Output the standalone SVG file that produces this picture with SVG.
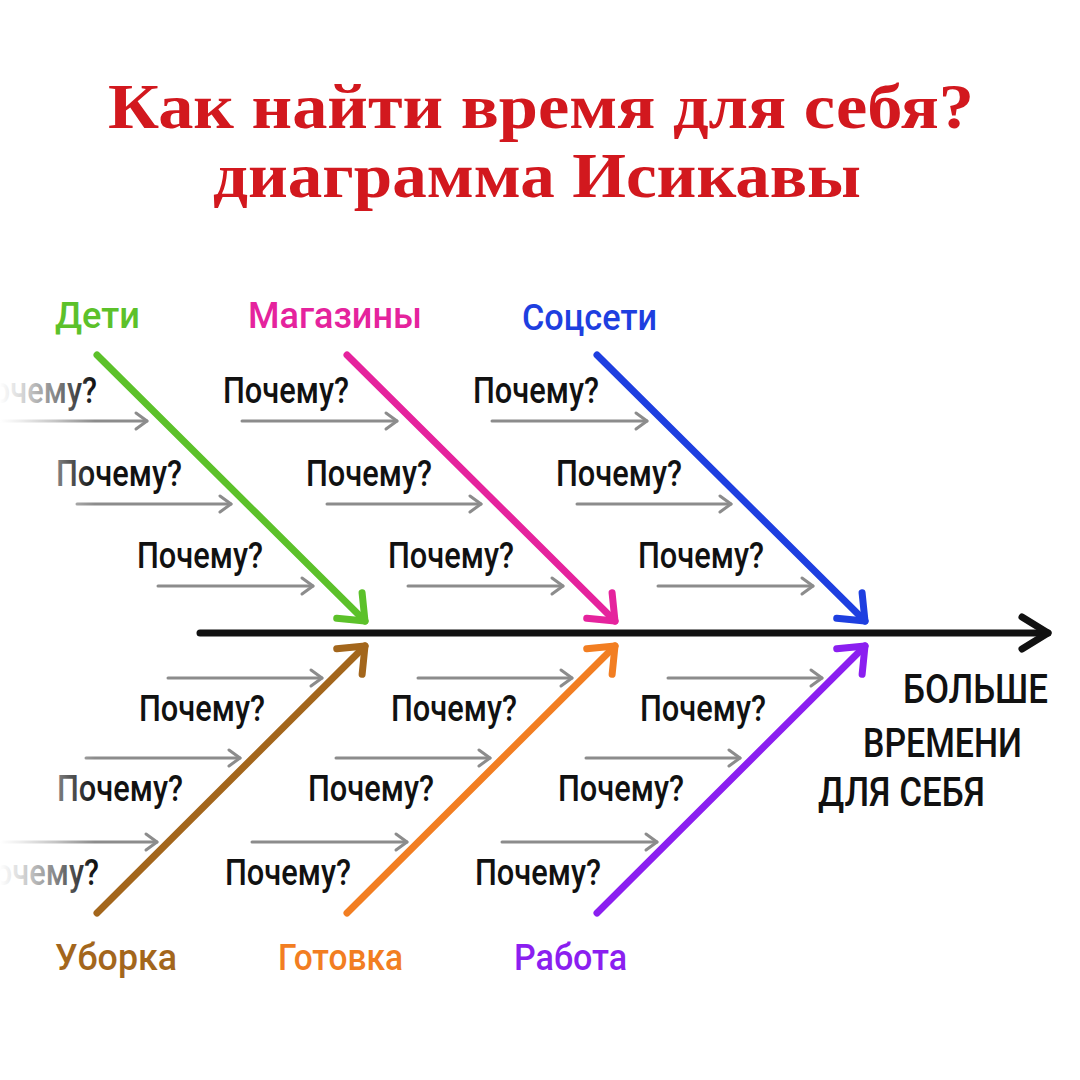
<svg xmlns="http://www.w3.org/2000/svg" width="1080" height="1080" viewBox="0 0 1080 1080">
<style>
.title{font-family:"Liberation Serif","DejaVu Serif",serif;font-weight:bold;font-size:63px;fill:#d2181e}
.why{font-family:Roboto,"Noto Sans",sans-serif;font-weight:500;font-size:36px;fill:#111}
.cat{font-family:Roboto,"Noto Sans",sans-serif;font-weight:500;font-size:37px}
.eff{font-family:Roboto,"Noto Sans",sans-serif;font-weight:500;font-size:40px;fill:#111}
.br{stroke-width:7;stroke-linecap:round;fill:none}
.g{stroke:#8c8c8c;stroke-width:3;stroke-linecap:round;fill:none;marker-end:url(#mg)}
</style>
<defs>
<marker id="mk" markerUnits="userSpaceOnUse" viewBox="-40 -30 50 60" refX="0" refY="0" markerWidth="50" markerHeight="60" orient="auto" overflow="visible"><path d="M-26,-16 L0,0 L-26,16" fill="none" stroke="#111" stroke-width="7" stroke-linecap="round" stroke-linejoin="round"/></marker>
<marker id="m1" markerUnits="userSpaceOnUse" viewBox="-40 -30 50 60" markerWidth="50" markerHeight="60" orient="auto" overflow="visible"><path d="M-22,-18 L0,0 L-22,18" fill="none" stroke="#5cc12a" stroke-width="7" stroke-linecap="round" stroke-linejoin="round"/></marker>
<marker id="m2" markerUnits="userSpaceOnUse" viewBox="-40 -30 50 60" markerWidth="50" markerHeight="60" orient="auto" overflow="visible"><path d="M-22,-18 L0,0 L-22,18" fill="none" stroke="#e5239d" stroke-width="7" stroke-linecap="round" stroke-linejoin="round"/></marker>
<marker id="m3" markerUnits="userSpaceOnUse" viewBox="-40 -30 50 60" markerWidth="50" markerHeight="60" orient="auto" overflow="visible"><path d="M-22,-18 L0,0 L-22,18" fill="none" stroke="#1e3fe0" stroke-width="7" stroke-linecap="round" stroke-linejoin="round"/></marker>
<marker id="m4" markerUnits="userSpaceOnUse" viewBox="-40 -30 50 60" markerWidth="50" markerHeight="60" orient="auto" overflow="visible"><path d="M-22,-18 L0,0 L-22,18" fill="none" stroke="#a3661c" stroke-width="7" stroke-linecap="round" stroke-linejoin="round"/></marker>
<marker id="m5" markerUnits="userSpaceOnUse" viewBox="-40 -30 50 60" markerWidth="50" markerHeight="60" orient="auto" overflow="visible"><path d="M-22,-18 L0,0 L-22,18" fill="none" stroke="#f27e22" stroke-width="7" stroke-linecap="round" stroke-linejoin="round"/></marker>
<marker id="m6" markerUnits="userSpaceOnUse" viewBox="-40 -30 50 60" markerWidth="50" markerHeight="60" orient="auto" overflow="visible"><path d="M-22,-18 L0,0 L-22,18" fill="none" stroke="#8b1ff0" stroke-width="7" stroke-linecap="round" stroke-linejoin="round"/></marker>
<marker id="mg" markerUnits="userSpaceOnUse" viewBox="-20 -12 24 24" markerWidth="24" markerHeight="24" orient="auto" overflow="visible"><path d="M-11,-8 L0,0 L-11,8" fill="none" stroke="#8c8c8c" stroke-width="3" stroke-linecap="round" stroke-linejoin="round"/></marker>
<linearGradient id="fade" gradientUnits="userSpaceOnUse" x1="0" y1="0" x2="100" y2="0">
<stop offset="0" stop-color="#fff" stop-opacity="1"/>
<stop offset="0.2" stop-color="#fff" stop-opacity="0.85"/>
<stop offset="0.55" stop-color="#fff" stop-opacity="0.5"/>
<stop offset="0.7" stop-color="#fff" stop-opacity="0.3"/>
<stop offset="0.95" stop-color="#fff" stop-opacity="0"/>
</linearGradient>
</defs>
<rect width="1080" height="1080" fill="#fff"/>

<g id="title">
<text class="title" x="108" y="128" textLength="866" lengthAdjust="spacingAndGlyphs">Как найти время для себя?</text>
<text class="title" x="213" y="197" textLength="648" lengthAdjust="spacingAndGlyphs">диаграмма Исикавы</text>
</g>

<g id="connectors">
<line x1="200" y1="633" x2="1048" y2="633" stroke="#111" stroke-width="7" stroke-linecap="round" marker-end="url(#mk)"/>
<line class="br" stroke="#5cc12a" x1="97" y1="355" x2="365" y2="621" marker-end="url(#m1)"/>
<line class="br" stroke="#e5239d" x1="347" y1="355" x2="615" y2="621" marker-end="url(#m2)"/>
<line class="br" stroke="#1e3fe0" x1="597" y1="355" x2="865" y2="621" marker-end="url(#m3)"/>
<line class="br" stroke="#a3661c" x1="97" y1="913" x2="365" y2="646" marker-end="url(#m4)"/>
<line class="br" stroke="#f27e22" x1="347" y1="913" x2="615" y2="646" marker-end="url(#m5)"/>
<line class="br" stroke="#8b1ff0" x1="597" y1="913" x2="865" y2="646" marker-end="url(#m6)"/>
<!-- upper cause arrows -->
<line class="g" x1="-8" y1="421" x2="147" y2="421"/>
<line class="g" x1="77" y1="504" x2="231" y2="504"/>
<line class="g" x1="158" y1="586" x2="313" y2="586"/>
<line class="g" x1="242" y1="421" x2="397" y2="421"/>
<line class="g" x1="327" y1="504" x2="481" y2="504"/>
<line class="g" x1="408" y1="586" x2="563" y2="586"/>
<line class="g" x1="492" y1="421" x2="647" y2="421"/>
<line class="g" x1="577" y1="504" x2="731" y2="504"/>
<line class="g" x1="658" y1="586" x2="813" y2="586"/>
<!-- lower cause arrows -->
<line class="g" x1="168" y1="678" x2="322" y2="678"/>
<line class="g" x1="86" y1="758" x2="240" y2="758"/>
<line class="g" x1="2" y1="842" x2="157" y2="842"/>
<line class="g" x1="418" y1="678" x2="572" y2="678"/>
<line class="g" x1="336" y1="758" x2="490" y2="758"/>
<line class="g" x1="252" y1="842" x2="407" y2="842"/>
<line class="g" x1="668" y1="678" x2="822" y2="678"/>
<line class="g" x1="586" y1="758" x2="740" y2="758"/>
<line class="g" x1="502" y1="842" x2="657" y2="842"/>
</g>

<g id="cat-deti"><text class="cat" fill="#5cc12a" x="55" y="328" textLength="85" lengthAdjust="spacingAndGlyphs">Дети</text></g>
<g id="cat-magaziny"><text class="cat" fill="#e5239d" x="248" y="328" textLength="174" lengthAdjust="spacingAndGlyphs">Магазины</text></g>
<g id="cat-socseti"><text class="cat" fill="#1e3fe0" x="522" y="330" textLength="135" lengthAdjust="spacingAndGlyphs">Соцсети</text></g>
<g id="cat-uborka"><text class="cat" fill="#a3661c" x="55" y="970" textLength="122" lengthAdjust="spacingAndGlyphs">Уборка</text></g>
<g id="cat-gotovka"><text class="cat" fill="#f27e22" x="278" y="970" textLength="125" lengthAdjust="spacingAndGlyphs">Готовка</text></g>
<g id="cat-rabota"><text class="cat" fill="#8b1ff0" x="514" y="970" textLength="113" lengthAdjust="spacingAndGlyphs">Работа</text></g>

<g id="effect">
<text class="eff" x="903" y="703" textLength="145" lengthAdjust="spacingAndGlyphs">БОЛЬШЕ</text>
<text class="eff" x="863" y="757" textLength="159" lengthAdjust="spacingAndGlyphs">ВРЕМЕНИ</text>
<text class="eff" x="818" y="806" textLength="167" lengthAdjust="spacingAndGlyphs">ДЛЯ СЕБЯ</text>
</g>

<g id="causes-deti">
<text class="why" x="-29" y="403" textLength="126" lengthAdjust="spacingAndGlyphs">Почему?</text>
<text class="why" x="56" y="486" textLength="126" lengthAdjust="spacingAndGlyphs">Почему?</text>
<text class="why" x="137" y="568" textLength="126" lengthAdjust="spacingAndGlyphs">Почему?</text>
</g>
<g id="causes-magaziny">
<text class="why" x="223" y="403" textLength="126" lengthAdjust="spacingAndGlyphs">Почему?</text>
<text class="why" x="306" y="486" textLength="126" lengthAdjust="spacingAndGlyphs">Почему?</text>
<text class="why" x="388" y="568" textLength="126" lengthAdjust="spacingAndGlyphs">Почему?</text>
</g>
<g id="causes-socseti">
<text class="why" x="473" y="403" textLength="126" lengthAdjust="spacingAndGlyphs">Почему?</text>
<text class="why" x="556" y="486" textLength="126" lengthAdjust="spacingAndGlyphs">Почему?</text>
<text class="why" x="638" y="568" textLength="126" lengthAdjust="spacingAndGlyphs">Почему?</text>
</g>
<g id="causes-uborka">
<text class="why" x="139" y="721" textLength="126" lengthAdjust="spacingAndGlyphs">Почему?</text>
<text class="why" x="57" y="801" textLength="126" lengthAdjust="spacingAndGlyphs">Почему?</text>
<text class="why" x="-27" y="885" textLength="126" lengthAdjust="spacingAndGlyphs">Почему?</text>
</g>
<g id="causes-gotovka">
<text class="why" x="391" y="721" textLength="126" lengthAdjust="spacingAndGlyphs">Почему?</text>
<text class="why" x="308" y="801" textLength="126" lengthAdjust="spacingAndGlyphs">Почему?</text>
<text class="why" x="225" y="885" textLength="126" lengthAdjust="spacingAndGlyphs">Почему?</text>
</g>
<g id="causes-rabota">
<text class="why" x="640" y="721" textLength="126" lengthAdjust="spacingAndGlyphs">Почему?</text>
<text class="why" x="558" y="801" textLength="126" lengthAdjust="spacingAndGlyphs">Почему?</text>
<text class="why" x="475" y="885" textLength="126" lengthAdjust="spacingAndGlyphs">Почему?</text>
</g>

<rect x="0" y="360" width="100" height="540" fill="url(#fade)"/>
</svg>
